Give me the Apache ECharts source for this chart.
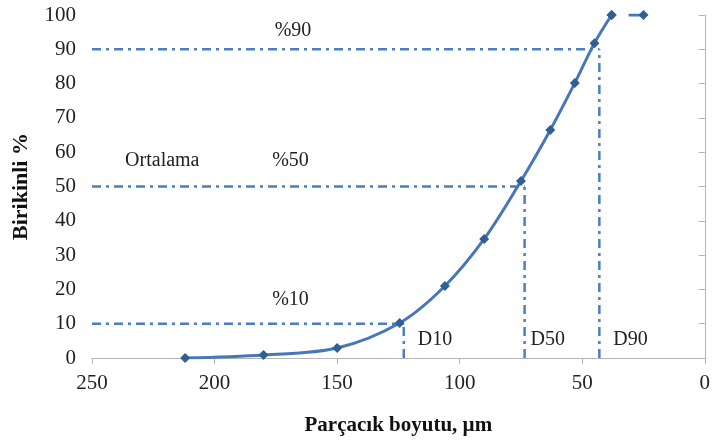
<!DOCTYPE html>
<html>
<head>
<meta charset="utf-8">
<script src="https://cdn.jsdelivr.net/npm/echarts@6/dist/echarts.min.js"></script>
<style>html,body{margin:0;padding:0;background:#fff}#c{width:713px;height:441px}</style>
</head>
<body>
<div id="c"></div>
<script>
// Data
const sizes = [212, 180, 150, 124.5, 106, 90, 75, 63, 53, 45, 38];
const cumulative = [0, 0.9, 2.9, 10.2, 21, 34.7, 51.6, 66.5, 80.2, 91.8, 100];
const lastPoint = [25, 100];
const levels = [10, 50, 90];
const dValues = [122.8, 73.5, 43];
const dLabels = ['D10', 'D50', 'D90'];
const levelLabels = ['%10', '%50', '%90'];
const xTicks = [250, 200, 150, 100, 50, 0];
const yTicks = [0, 10, 20, 30, 40, 50, 60, 70, 80, 90, 100];

const serif = 'Liberation Serif';
const lineBlue = '#4677b8';
const refBlue = '#4a7ebf';
const dashDot = [9, 5, 3, 5];

const series = [];
series.push({
  type: 'line', smooth: 0.35, data: sizes.map((s, i) => [s, cumulative[i]]),
  symbol: 'diamond', symbolSize: 10, itemStyle: {color: '#2f5f93'},
  lineStyle: {color: lineBlue, width: 3}, z: 5
});
series.push({
  type: 'line', data: [[sizes[sizes.length - 1], cumulative[cumulative.length - 1]], lastPoint],
  symbol: 'diamond', symbolSize: 10, itemStyle: {color: '#2f5f93'},
  lineStyle: {color: lineBlue, width: 3, type: [0, 17, 15, 0]}, z: 5
});
levels.forEach((lv, i) => {
  series.push({
    type: 'line', data: [[xTicks[0], lv], [dValues[i], lv]], symbol: 'none',
    lineStyle: {color: refBlue, width: 2.5, type: dashDot}, z: 3
  });
  series.push({
    type: 'line', data: [[dValues[i], 0], [dValues[i], lv]], symbol: 'none',
    lineStyle: {color: refBlue, width: 2.5, type: dashDot}, z: 3
  });
});

const chart = echarts.init(document.getElementById('c'), null, {renderer: 'canvas'});
chart.setOption({
  animation: false,
  grid: {left: 92, right: 4, top: 15, bottom: 83},
  xAxis: {
    type: 'value', inverse: true, min: 0, max: 250, interval: 50,
    name: 'Parçacık boyutu, µm', nameLocation: 'middle', nameGap: 57,
    nameTextStyle: {fontFamily: serif, fontSize: 21, fontWeight: 'bold', color: '#111'},
    axisLine: {lineStyle: {color: '#b5b5b5', width: 1}},
    axisTick: {show: true, length: 6, lineStyle: {color: '#b5b5b5'}},
    axisLabel: {fontFamily: serif, fontSize: 21, color: '#222', margin: 15},
    splitLine: {show: false}
  },
  yAxis: {
    type: 'value', min: 0, max: 100, interval: 10,
    name: 'Birikinli %', nameLocation: 'middle', nameGap: 60,
    nameTextStyle: {fontFamily: serif, fontSize: 22, fontWeight: 'bold', color: '#111'},
    axisLine: {show: true, lineStyle: {color: '#b5b5b5', width: 1}},
    axisTick: {show: true, length: 6, lineStyle: {color: '#b5b5b5'}},
    axisLabel: {fontFamily: serif, fontSize: 21, color: '#222', margin: 16},
    splitLine: {show: false}
  },
  series: series
});

const p = (x, y) => chart.convertToPixel({gridIndex: 0}, [x, y]);
const graphics = [];
const levelX = [169, 169, 168];
const levelDy = [24, 26, 19];
const dDx = [14, 6, 14];
const ts = {fontFamily: serif, fontSize: 20, fill: '#222', textVerticalAlign: 'middle'};
levels.forEach((lv, i) => {
  const pt = p(levelX[i], lv);
  graphics.push({type: 'text', x: pt[0], y: pt[1] - levelDy[i], style: Object.assign({text: levelLabels[i], textAlign: 'center'}, ts)});
  const dp = p(dValues[i], 0);
  graphics.push({type: 'text', x: dp[0] + dDx[i], y: dp[1] - 18, style: Object.assign({text: dLabels[i], textAlign: 'left'}, ts)});
});
const op = p(236.5, 50);
graphics.push({type: 'text', x: op[0], y: op[1] - 26, style: Object.assign({text: 'Ortalama', textAlign: 'left'}, ts)});
chart.setOption({graphic: graphics});
</script>
</body>
</html>
